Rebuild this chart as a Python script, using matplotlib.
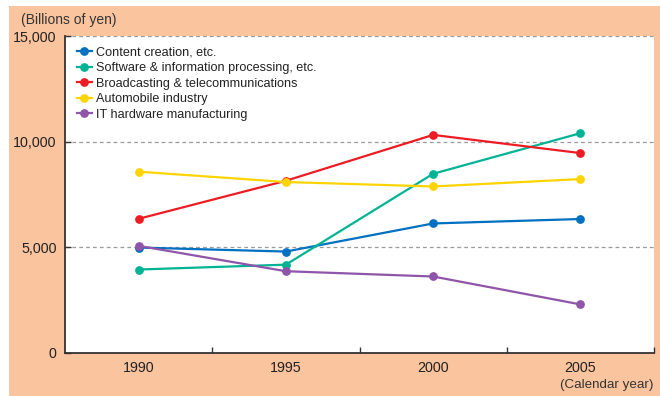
import matplotlib
matplotlib.use("Agg")
import matplotlib.pyplot as plt
from matplotlib.patches import Rectangle

plt.rcParams['font.family'] = ['Liberation Sans', 'DejaVu Sans']

years = [1990, 1995, 2000, 2005]
series_names = ["Content creation, etc.",
                "Software & information processing, etc.",
                "Broadcasting & telecommunications",
                "Automobile industry",
                "IT hardware manufacturing"]
content = [4990, 4800, 6130, 6340]
software = [3950, 4180, 8480, 10400]
broadcast = [6350, 8150, 10320, 9460]
auto = [8580, 8090, 7880, 8230]
it_hw = [5070, 3870, 3620, 2300]
series_values = [content, software, broadcast, auto, it_hw]
colors = ["#0070C0", "#00B394", "#EC1C24", "#FFD400", "#8E55A8"]
y_ticks = [0, 5000, 10000, 15000]
y_labels = ["0", "5,000", "10,000", "15,000"]

W, H = 660, 396
fig = plt.figure(figsize=(6.6, 3.96), dpi=100)
fig.patch.set_facecolor("white")
orange = "#FAC49E"
fig.patches.append(Rectangle((9 / W, 0), 1 - 9 / W, 1 - 6 / H, transform=fig.transFigure,
                             facecolor=orange, edgecolor="none", zorder=-10))

ax = fig.add_axes([65 / W, 1 - 353 / H, (654 - 65) / W, (353 - 36) / H])
ax.set_zorder(5)
ax.set_facecolor("white")

for vals, c, name in zip(series_values, colors, series_names):
    ax.plot(years, vals, color=c, lw=1.6, marker="o", markersize=6.3,
            markeredgewidth=0, label=name, zorder=3)

ax.set_xlim(1987.5, 2007.5)
ax.set_ylim(0, 15000)
for yv in [5000, 10000, 15000]:
    ax.axhline(yv, color="#999999", lw=0.9, ls=(0, (3, 2.5)), zorder=1)

for s in ["top", "right"]:
    ax.spines[s].set_visible(False)
for s in ["left", "bottom"]:
    ax.spines[s].set_color("#333333")
    ax.spines[s].set_linewidth(1.3)

ax.set_xticks(years)
ax.set_xticklabels([str(y) for y in years], fontsize=10.3, color="#222222")
ax.set_xticks([1992.5, 1997.5, 2002.5, 2007.5], minor=True)
ax.tick_params(axis="x", which="major", length=0, pad=6)
ax.tick_params(axis="x", which="minor", direction="in", length=4, color="#333333", width=1)
ax.set_yticks(y_ticks)
ax.set_yticklabels(y_labels, fontsize=10.3, color="#222222")
ax.tick_params(axis="y", direction="in", length=4, color="#333333", width=1, pad=6)

leg = ax.legend(loc="upper left", bbox_to_anchor=(0.005, 0.995), frameon=False,
                fontsize=9.1, handlelength=1.2, handletextpad=0.35,
                labelspacing=0.28, borderaxespad=0.3)
for t in leg.get_texts():
    t.set_color("#222222")

fig.text(21 / W, 1 - 20 / H, "(Billions of yen)", fontsize=10, color="#333333",
         ha="left", va="center")
fig.text(654 / W, 1 - 385 / H, "(Calendar year)", fontsize=9.6, color="#333333",
         ha="right", va="center")

fig.savefig("out.png", dpi=100, facecolor=fig.get_facecolor())
